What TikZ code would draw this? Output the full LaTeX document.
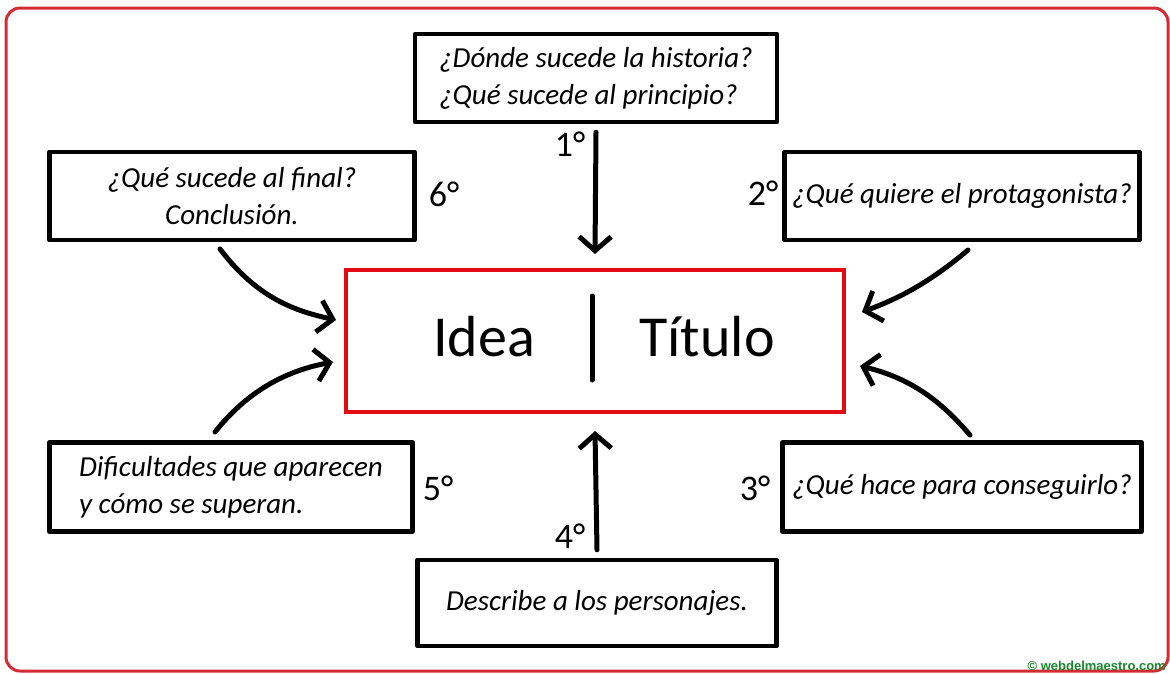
\documentclass[tikz,border=0pt]{standalone}
\usepackage{fontspec}
\setmainfont{Carlito}
\setsansfont{Liberation Sans}
\usetikzlibrary{arrows.meta}
\definecolor{ctrred}{RGB}{226,12,18}
\definecolor{framered}{RGB}{212,44,52}
\definecolor{wmgreen}{RGB}{24,135,45}
\begin{document}
\begin{tikzpicture}[x=1pt,y=-1pt,
  qbox/.style={draw=black, line width=4.5pt, fill=white, inner sep=0pt, line join=round,
    font=\itshape\fontsize{29}{37}\selectfont},
  ordlab/.style={font=\fontsize{36}{36}\selectfont, inner sep=0pt},
  bigtxt/.style={font=\fontsize{58}{58}\selectfont, inner sep=0pt, anchor=base},
  arr/.style={line width=5pt, line cap=round, -{Straight Barb[length=14pt,width=32pt]}},
]
\useasboundingbox (0,0) rectangle (1170,673);
\clip (0,0) rectangle (1170,673);
\fill[white] (0,0) rectangle (1170,673);
\draw[framered, line width=3pt, rounded corners=14pt] (6,8) rectangle (1168,671);

% question boxes
\node[qbox, minimum width=362pt, minimum height=88pt, align=left] (b1) at (596,78)
  {¿Dónde sucede la historia?\\¿Qué sucede al principio?};
\node[qbox, minimum width=365pt, minimum height=88pt, align=center] (b6) at (232,196)
  {¿Qué sucede al final?\\Conclusión.};
\node[qbox, minimum width=355pt, minimum height=88pt, align=center] (b2) at (962,196)
  {¿Qué quiere el protagonista?};
\node[qbox, minimum width=363pt, minimum height=89pt, align=left] (b5) at (231,487)
  {Dificultades que aparecen\\y cómo se superan.};
\node[qbox, minimum width=359pt, minimum height=89pt, align=center] (b3) at (962,487)
  {¿Qué hace para conseguirlo?};
\node[qbox, minimum width=359pt, minimum height=86pt, align=center] (b4) at (597,603)
  {Describe a los personajes.};

% central box
\node[draw=ctrred, line width=4pt, minimum width=498pt, minimum height=142pt, inner sep=0pt] (c) at (595,341) {};
\node[bigtxt] (idea) at (484,356) {Idea};
\node[bigtxt] (titulo) at (707,356) {Título};
\draw[line width=5pt, line cap=round] (592,296) -- (592,380);

% ordinal labels
\node[ordlab] (o1) at (570,144) {1°};
\node[ordlab] (o6) at (444,194) {6°};
\node[ordlab] (o2) at (763,193) {2°};
\node[ordlab] (o5) at (438,488) {5°};
\node[ordlab] (o3) at (755,488) {3°};
\node[ordlab] (o4) at (570,536) {4°};

% connector end points
\coordinate (s6) at (220,249);
\coordinate (e6) at (336,320);
\coordinate (s5) at (215,432);
\coordinate (e5) at (333,362);
\coordinate (s2) at (968,250);
\coordinate (e2) at (862,312);
\coordinate (s3) at (970,435);
\coordinate (e3) at (860,366);

% arrows
\draw[arr] ([yshift=-8pt]b1.south) -- ([yshift=14pt]c.north);
\draw[arr] ([yshift=8pt]b4.north) -- ([yshift=-17pt]c.south);
\draw[arr] (s6) .. controls (255,295) and (290,310) .. (e6);
\draw[arr] (s5) .. controls (250,388) and (290,370) .. (e5);
\draw[arr] (s2) .. controls (930,282) and (900,298) .. (e2);
\draw[arr] (s3) .. controls (940,400) and (910,378) .. (e3);

% watermark
\node[anchor=south east, inner sep=0pt, text=wmgreen, font=\sffamily\bfseries\fontsize{13}{13}\selectfont] (wm) at (1166,671) {© webdelmaestro.com};
\end{tikzpicture}
\end{document}
